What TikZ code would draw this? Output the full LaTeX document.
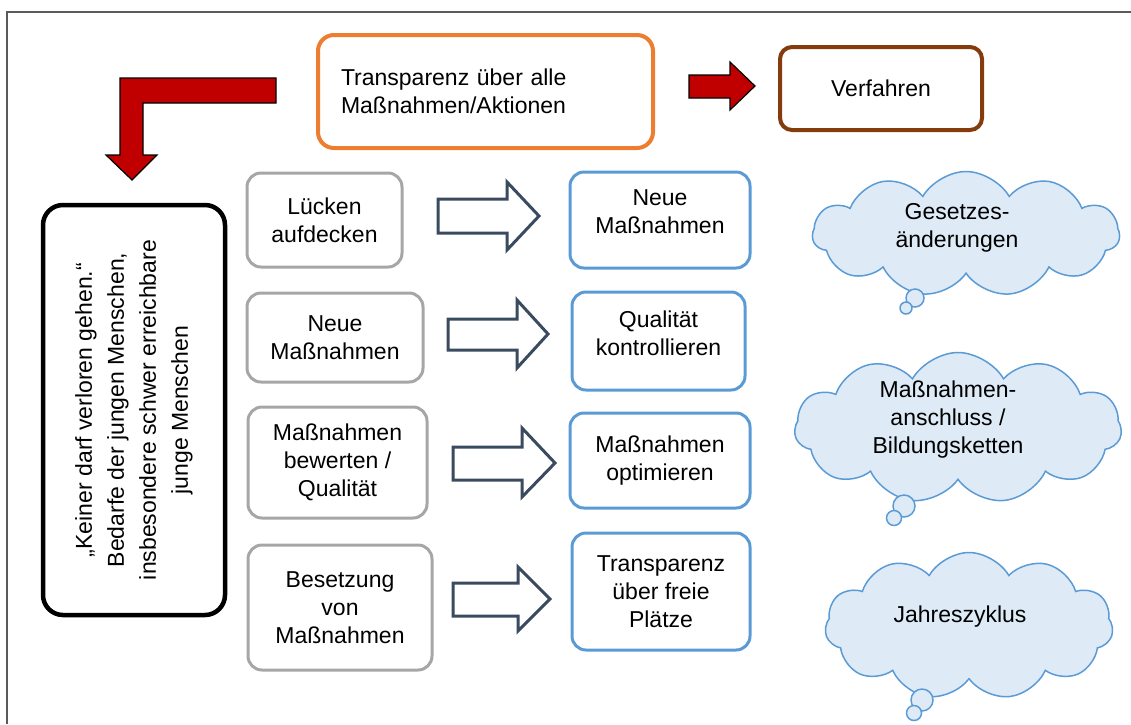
\documentclass[tikz,border=0pt]{standalone}
\usepackage{fontspec}
\setmainfont{Liberation Sans}
\usetikzlibrary{shapes.symbols}
\definecolor{orangeC}{HTML}{ED7D31}
\definecolor{brownC}{HTML}{843C0C}
\definecolor{redC}{HTML}{C00000}
\definecolor{grayC}{HTML}{A6A6A6}
\definecolor{blueC}{HTML}{5B9BD5}
\definecolor{slateC}{HTML}{3B4B5F}
\definecolor{cloudC}{HTML}{DEEBF7}
\definecolor{frameC}{HTML}{5A5A5A}
\tikzset{
  txt/.style={font=\fontsize{23}{28}\selectfont, text=black},
  gbox/.style={txt, draw=grayC, line width=3pt, rounded corners=14pt, align=center, inner sep=0pt},
  bbox/.style={txt, draw=blueC, line width=3pt, rounded corners=14pt, align=center, inner sep=0pt},
  hollow/.style={draw=slateC, line width=3pt, fill=white, line join=miter},
  redarrow/.style={fill=redC, draw=black, line width=1.2pt, line join=miter},
  cloudbox/.style={cloud, cloud puffs=11, cloud puff arc=120, cloud ignores aspect, draw=blueC, fill=cloudC, line width=1.5pt, inner sep=0pt},
  cloudtext/.style={txt, align=center, inner sep=0pt},
  puff/.style={circle, draw=blueC, fill=cloudC, line width=1.5pt, inner sep=0pt},
}
\begin{document}
\begin{tikzpicture}[x=1pt,y=-1pt]
\useasboundingbox (0,0) rectangle (1131,724);
% frame
\coordinate (fl) at (7,724);
\coordinate (fc) at (7,12);
\coordinate (fr) at (1131,12);
\draw[frameC, line width=2pt] (fl) -- (fc) -- (fr);

% top boxes
\node[txt, draw=orangeC, line width=4pt, rounded corners=16pt, minimum width=335pt, minimum height=113pt, text width=289pt, inner xsep=23pt, align=left] (top) at (485.5,91.5) {Transparenz über alle\\Maßnahmen/Aktionen};
\node[txt, draw=brownC, line width=4pt, rounded corners=12pt, minimum width=202pt, minimum height=83pt, inner sep=0pt] (verf) at (881,88.5) {Verfahren};

% red arrows
\draw[redarrow] (689,75) -- (730,75) -- (730,62) -- (755,86) -- (730,110) -- (730,98) -- (689,98) -- cycle;
\draw[redarrow] (276,78) -- (120,78) -- (120,155) -- (106,155) -- (132,180) -- (157,155) -- (143,155) -- (143,103) -- (276,103) -- cycle;

% left black box
\node[draw=black, line width=4.5pt, rounded corners=20pt, rotate=90, minimum width=410pt, minimum height=182pt, align=center, inner sep=0pt, font=\fontsize{23}{32}\selectfont] (keiner) at (134,410) {„Keiner darf verloren gehen.“\\Bedarfe der jungen Menschen,\\insbesondere schwer erreichbare\\junge Menschen};

% gray boxes
\node[gbox, minimum width=155pt, minimum height=94pt] (g1) at (324.5,220) {Lücken\\aufdecken};
\node[gbox, minimum width=176pt, minimum height=89pt] (g2) at (335,337.5) {Neue\\Maßnahmen};
\node[gbox, minimum width=179pt, minimum height=111pt] (g3) at (337.5,462.5) {Maßnahmen\\bewerten /\\Qualität};
\node[gbox, minimum width=184pt, minimum height=125pt] (g4) at (340,607.5) {Besetzung\\von\\Maßnahmen};

% blue boxes
\node[bbox, minimum width=180pt, minimum height=96pt, text depth=16pt] (b1) at (660,220) {Neue\\Maßnahmen};
\node[bbox, minimum width=173pt, minimum height=98pt, text depth=16pt] (b2) at (658.5,341) {Qualität\\kontrollieren};
\node[bbox, minimum width=180pt, minimum height=95pt] (b3) at (660,460.5) {Maßnahmen\\optimieren};
\node[bbox, minimum width=178pt, minimum height=117pt] (b4) at (661,591.5) {Transparenz\\über freie\\Plätze};

% hollow arrows
\draw[hollow] (438,199) -- (507,199) -- (507,182) -- (539,216) -- (507,250) -- (507,233) -- (438,233) -- cycle;
\draw[hollow] (448,319) -- (517,319) -- (517,300) -- (548,334) -- (517,368) -- (517,350) -- (448,350) -- cycle;
\draw[hollow] (453,447) -- (522,447) -- (522,428) -- (555,463) -- (522,497) -- (522,480) -- (453,480) -- cycle;
\draw[hollow] (453,583) -- (518,583) -- (518,567) -- (550,599) -- (518,631) -- (518,616) -- (453,616) -- cycle;

% clouds
\node[cloudbox, minimum width=307pt, minimum height=125pt] (c1) at (966,234) {};
\node[cloudtext] (c1t) at (957,228) {Gesetzes-\\änderungen};
\node[puff, minimum size=18pt] (c1p1) at (915,298) {};
\node[puff, minimum size=12pt] (c1p2) at (906,308) {};
\node[cloudbox, minimum width=327pt, minimum height=151pt] (c2) at (958,428) {};
\node[cloudtext] (c2t) at (948,420) {Maßnahmen-\\anschluss /\\Bildungsketten};
\node[puff, minimum size=22pt] (c2p1) at (904,506) {};
\node[puff, minimum size=15pt] (c2p2) at (894,518) {};
\node[cloudbox, minimum width=288pt, minimum height=147pt] (c3) at (969,626) {};
\node[cloudtext] (c3t) at (960,617) {Jahreszyklus};
\node[puff, minimum size=22pt] (c3p1) at (922,700) {};
\node[puff, minimum size=15pt] (c3p2) at (914,713) {};
\end{tikzpicture}
\end{document}
